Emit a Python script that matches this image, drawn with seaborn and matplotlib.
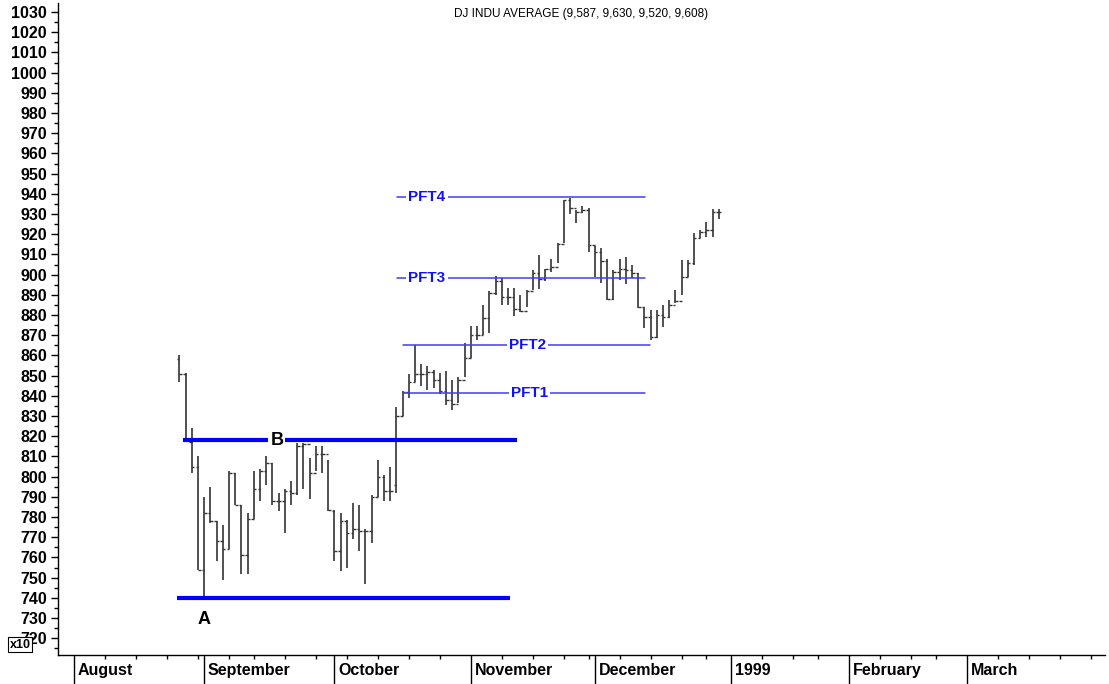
import numpy as np
import pandas as pd
import seaborn as sns
import matplotlib.pyplot as plt
import matplotlib.transforms as mtransforms

sns.set_style("ticks")
plt.rcParams['font.family'] = ['Liberation Sans', 'DejaVu Sans']
plt.rcParams['text.color'] = 'black'
plt.rcParams['xtick.color'] = 'black'
plt.rcParams['ytick.color'] = 'black'

# NYSE holidays Aug 1998 - Mar 1999 (trading-day axis)
holidays = ['1998-09-07', '1998-11-26', '1998-12-25', '1999-01-01', '1999-01-18', '1999-02-15']
days = pd.bdate_range('1998-08-03', '1999-03-31', freq='C', holidays=holidays)

# daily bars, DJIA / 10, from 26 Aug 1998
first_bar = '1998-08-26'
high = [860, 851.5, 824, 810, 790, 795, 778, 776, 803, 802, 786, 782, 803, 804, 810, 807,
        792, 794, 798, 816.5, 816.5, 809, 815, 815, 808, 783.5, 782, 778.5, 787, 786, 774, 791,
        808, 801, 805, 834.6, 842.5, 851, 865, 856, 855, 853, 851.5, 852.5, 848, 849.5, 866, 874.4,
        874.4, 885, 891.7, 899.5, 898.3, 893.3, 893.3, 890, 892.4, 902.3, 909.7, 903, 908, 915.5,
        937, 938, 932, 934, 933, 914, 913, 907.6, 902.3, 907.6, 908.6, 904.7, 900.7, 884.2, 882.5,
        882.5, 885, 887.7, 892.4, 907.2, 907.2, 920.7, 922, 926, 932.3, 932.3]
low = [847, 817, 802, 754, 740, 777, 758, 749, 764, 786, 752, 752, 779, 788, 796, 786,
       783, 772, 786, 791, 794, 789, 803, 802, 783, 758, 753.5, 755, 769, 763, 747, 767,
       790, 788, 788, 792, 830, 839, 847, 845, 843, 844, 841, 835.5, 833, 836.6, 849.5, 858.6,
       867.6, 870, 871, 890, 885, 885, 879.5, 881.7, 884, 892.4, 893, 897, 901.5, 906,
       915.5, 930, 925.7, 930.3, 911, 899, 895.7, 887.7, 887.7, 897.3, 895.4, 898.2, 883.3, 873.5, 867.6,
       868.4, 874.3, 878.4, 885.8, 889.9, 899, 904.7, 918, 918.8, 918.8, 927.4]
open_ = [858, 851, 817, 805, 754, 782, 778, 768, 764, 802, 786, 761, 779, 794, 803, 807,
         788, 788, 793, 792, 815, 816, 802, 811, 811, 783, 763, 778, 772, 774, 773, 773,
         790, 800, 793, 796, 830, 842, 847, 851, 851, 852, 848, 842.5, 838, 836, 848, 858.6,
         870, 870, 878.4, 891, 897, 889, 889, 883, 882, 891.7, 900.7, 898, 903, 903.6,
         915, 937, 933, 931, 932, 914.7, 911, 907, 888, 901.5, 903, 902.3, 901, 884, 879,
         869.3, 880, 879.2, 885, 887, 899, 906, 918, 921, 922, 931]
close = [851, 818, 805, 754, 782, 778, 768, 764, 802, 786, 761, 779, 794, 803, 807, 788,
         788, 793, 792, 815, 816, 802, 811, 811, 783.5, 763, 778, 772, 774, 773, 773, 790,
         800, 793, 793, 830, 842, 847, 851, 851, 852, 848, 842.5, 838, 836, 848, 858.6, 870,
         870, 878.4, 891, 897, 889, 889, 883, 882, 891.7, 900.7, 898, 903, 903.6, 915,
         937, 933, 931, 932, 914.7, 911, 907, 888, 901.5, 903, 902.3, 901, 884, 879, 869.3,
         880, 879.2, 885, 887, 899, 906, 918, 921, 922, 931, 931]

# support / resistance and price-target lines: (label, level, start idx, end idx, label idx)
thick_lines = [('A', 740, 16.6, 70.3, 21.0), ('B', 818, 17.6, 71.5, 32.7)]
pft_lines = [('PFT1', 841.4, 53.1, 92.1, 73.5), ('PFT2', 865.1, 53.1, 92.9, 73.1),
             ('PFT3', 898.3, 52.1, 92.1, 56.9), ('PFT4', 938.4, 52.1, 92.1, 56.9)]

month_labels = ['August', 'September', 'October', 'November', 'December', '1999', 'February', 'March']
title = 'DJ INDU AVERAGE (9,587, 9,630, 9,520, 9,608)'

idx0 = days.get_loc(pd.Timestamp(first_bar))
x = np.arange(idx0, idx0 + len(high))

fig = plt.figure(figsize=(11.09, 6.84), dpi=100)
ax = fig.add_axes([58 / 1109, 29 / 684, 1047 / 1109, 652 / 684])

bar_col = '#333333'
ax.vlines(x, low, high, color=bar_col, lw=1.2)
ax.hlines(open_, x - 0.4, x, color=bar_col, lw=1.0)
ax.hlines(close, x, x + 0.4, color=bar_col, lw=1.0)

for lab, lvl, x0, x1, xl in thick_lines:
    ax.plot([x0, x1], [lvl, lvl], color='#0000ff', lw=3, solid_capstyle='butt')
for lab, lvl, x0, x1, xl in pft_lines:
    ax.plot([x0, x1], [lvl, lvl], color='#3c3cff', lw=1.1)
    ax.text(xl, lvl, lab, color='#1010ff', fontsize=11, fontweight='bold', ha='center', va='center',
            bbox=dict(facecolor='white', edgecolor='none', pad=1.5))

ax.text(32.7, 818, 'B', fontsize=13, fontweight='bold', color='black', ha='center', va='center',
        bbox=dict(facecolor='white', edgecolor='none', pad=1.5))
ax.text(21.0, 729.5, 'A', fontsize=13, fontweight='bold', color='black', ha='center', va='center')

ax.text(0.5, 0.983, title, transform=ax.transAxes, fontsize=8.5, ha='center', va='center')

# axes
ax.set_xlim(-2.6, 166.3)
ax.set_ylim(711.7, 1034.5)
ax.set_yticks(np.arange(720, 1031, 10))
ax.set_yticks(np.arange(715, 1035, 5), minor=True)
ax.tick_params(axis='y', which='major', direction='out', length=5, width=1, color='black',
               labelsize=11.5, pad=3)
ax.tick_params(axis='y', which='minor', direction='out', length=3, width=1, color='black')
for t in ax.get_yticklabels():
    t.set_fontweight('bold')

month_start = [i for i in range(len(days)) if i == 0 or days[i].month != days[i - 1].month]
week_start = [i for i in range(len(days)) if i == 0 or days[i].weekday() <= days[i - 1].weekday()]
ax.set_xticks(month_start)
ax.set_xticklabels([])
ax.set_xticks(week_start, minor=True)
ax.tick_params(axis='x', which='major', direction='out', length=21, width=1, color='black')
ax.tick_params(axis='x', which='minor', direction='out', length=3, width=1, color='black')
trans = mtransforms.blended_transform_factory(ax.transData, ax.transAxes)
for i, lab in zip(month_start, month_labels):
    ax.text(i + 0.6, -0.024, lab, transform=trans, fontsize=11.5, fontweight='bold',
            ha='left', va='center', clip_on=False)

sns.despine(ax=ax)
for s in ['left', 'bottom']:
    ax.spines[s].set_color('black')
    ax.spines[s].set_linewidth(1)

fig.text(20 / 1109, 1 - 644.5 / 684, 'x10', fontsize=9, fontweight='bold', ha='center', va='center',
         bbox=dict(boxstyle='square,pad=0.15', facecolor='white', edgecolor='black', lw=0.8))

fig.savefig('out.png', dpi=100)
